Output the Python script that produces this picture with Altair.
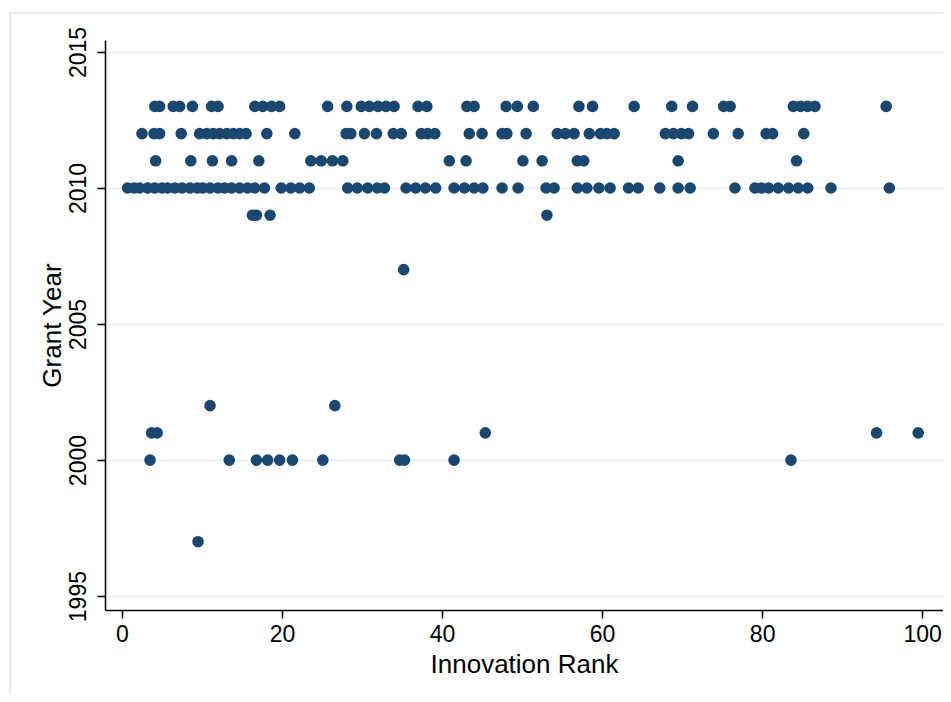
import altair as alt
import pandas as pd

# Innovation rank values for each grant year
rank_2013 = [4.1, 4.7, 6.4, 7.2, 8.8, 11.2, 12.0, 16.6, 17.6, 18.7, 19.7, 25.7, 28.1,
             29.9, 30.9, 32.0, 33.0, 34.0, 37.0, 38.1, 43.1, 44.0, 48.0, 49.4, 51.4,
             57.1, 58.8, 64.0, 68.7, 71.3, 75.2, 76.0, 83.9, 84.8, 85.7, 86.6, 95.5]
rank_2012 = [2.5, 4.0, 4.7, 7.4, 9.7, 10.6, 11.4, 12.2, 13.1, 13.9, 14.7, 15.5, 18.1,
             21.6, 28.0, 28.6, 30.3, 31.8, 33.9, 34.9, 37.4, 38.2, 39.1, 43.4, 45.0,
             47.5, 48.1, 50.5, 54.4, 55.4, 56.5, 58.4, 59.8, 60.6, 61.5, 67.9, 68.9,
             69.9, 70.8, 73.9, 77.0, 80.5, 81.3, 85.2]
rank_2011 = [4.2, 8.6, 11.3, 13.7, 17.1, 23.6, 24.9, 26.3, 27.6, 40.9, 43.0, 50.1,
             52.5, 56.9, 57.7, 69.5, 84.3]
rank_2010 = [0.7, 1.5, 2.2, 3.2, 4.1, 5.0, 5.7, 6.6, 7.5, 8.5, 9.4, 10.1, 11.0, 12.0,
             12.8, 13.7, 14.7, 15.7, 16.6, 17.8, 19.9, 21.1, 22.2, 23.4, 28.2, 29.4,
             30.7, 31.9, 32.8, 35.5, 36.7, 37.9, 39.2, 41.5, 42.8, 44.0, 45.1, 47.5,
             49.5, 53.0, 54.0, 56.9, 58.1, 59.6, 61.0, 63.3, 64.5, 67.2, 69.5, 71.0,
             76.6, 79.1, 79.9, 80.8, 82.0, 83.3, 84.5, 85.7, 88.6, 95.9]
rank_2009 = [16.3, 16.8, 18.5, 53.1]
rank_2007 = [35.2]
rank_2002 = [11.0, 26.6]
rank_2001 = [3.7, 4.4, 45.4, 94.3, 99.5]
rank_2000 = [3.5, 13.4, 16.8, 18.2, 19.7, 21.3, 25.1, 34.7, 35.3, 41.5, 83.6]
rank_1997 = [9.5]

x_ticks = [0, 20, 40, 60, 80, 100]
y_ticks = [1995, 2000, 2005, 2010, 2015]

groups = {2013: rank_2013, 2012: rank_2012, 2011: rank_2011, 2010: rank_2010,
          2009: rank_2009, 2007: rank_2007, 2002: rank_2002, 2001: rank_2001,
          2000: rank_2000, 1997: rank_1997}
rows = [{"rank": r, "year": y} for y, rs in groups.items() for r in rs]
df = pd.DataFrame(rows)

FONT = "Liberation Sans"

points = alt.Chart(df).mark_circle(size=135, color="#1a476f", opacity=1).encode(
    x=alt.X("rank:Q",
            scale=alt.Scale(domain=[-2.125, 102.6], nice=False, zero=False),
            axis=alt.Axis(values=x_ticks, title="Innovation Rank", grid=False,
                          domainColor="black", domainWidth=1.5, tickColor="black",
                          tickWidth=1.5, tickSize=8, labelPadding=5,
                          labelFontSize=23, titleFontSize=26, titlePadding=5,
                          labelColor="black", titleColor="black",
                          labelFont=FONT, titleFont=FONT, titleFontWeight="normal")),
    y=alt.Y("year:Q",
            scale=alt.Scale(domain=[1994.49, 2015.44], nice=False, zero=False),
            axis=alt.Axis(values=y_ticks, title="Grant Year", grid=True,
                          gridColor="#eaf2f3", gridWidth=2,
                          domainColor="black", domainWidth=1.5, tickColor="black",
                          tickWidth=1.5, tickSize=8, labelPadding=7,
                          labelAngle=270, labelAlign="center", labelBaseline="bottom",
                          labelFontSize=23, titleFontSize=26, titlePadding=2,
                          labelColor="black", titleColor="black", format="d",
                          labelFont=FONT, titleFont=FONT, titleFontWeight="normal")),
)

frame = alt.Chart(pd.DataFrame({"k": [0]})).mark_rect(
    fill=None, stroke="#e2e8ea", strokeWidth=1.5, clip=False
).encode(
    x=alt.value(-95), x2=alt.value(900), y=alt.value(-27), y2=alt.value(700)
)

chart = alt.layer(frame, points).properties(
    width=838, height=570,
    autosize=alt.AutoSizeParams(type="none"),
    padding={"left": 97, "top": 32, "right": 0, "bottom": 84},
    background="white",
).configure_view(stroke=None)

chart.save("out.html", embed_options={"renderer": "svg", "actions": False})
